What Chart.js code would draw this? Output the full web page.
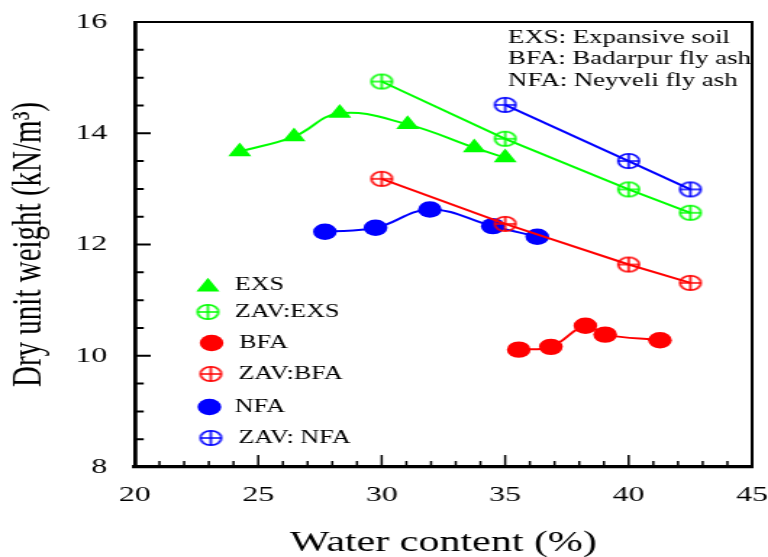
<!DOCTYPE html>
<html>
<head>
<meta charset="utf-8">
<script src="https://cdn.jsdelivr.net/npm/chart.js@4"></script>
<style>
  html, body { margin: 0; padding: 0; background: #fff; overflow: hidden; }
  /* the original figure is stretched sideways, so draw narrow and widen it */
  #wrap { width: 530px; height: 557px; transform: scaleX(1.4491); transform-origin: 0 0; }
</style>
</head>
<body>
<div id="wrap"><canvas id="chart" width="530" height="557"></canvas></div>
<script>
const serif = "'Liberation Serif', 'DejaVu Serif', 'Times New Roman', serif";

// water content (%) and dry unit weight (kN/m3)
const exsX = [24.25, 26.45, 28.3, 31.05, 33.75, 35.0];
const exsY = [13.67, 13.94, 14.36, 14.16, 13.74, 13.56];
const zavExsX = [30, 35, 40, 42.5];
const zavExsY = [14.93, 13.9, 12.99, 12.57];
const bfaX = [35.55, 36.85, 38.25, 39.05, 41.27];
const bfaY = [10.11, 10.16, 10.54, 10.38, 10.28];
const zavBfaX = [30, 35, 40, 42.5];
const zavBfaY = [13.18, 12.37, 11.64, 11.31];
const nfaX = [27.7, 29.75, 31.95, 34.5, 36.3];
const nfaY = [12.23, 12.30, 12.63, 12.33, 12.14];
const zavNfaX = [35, 40, 42.5];
const zavNfaY = [14.51, 13.5, 12.99];

const xTicks = [20, 25, 30, 35, 40, 45];
const yTicks = [8, 10, 12, 14, 16];
const notes = ["EXS: Expansive soil", "BFA: Badarpur fly ash", "NFA: Neyveli fly ash"];
const legendNames = ["EXS", "ZAV:EXS", "BFA", "ZAV:BFA", "NFA", "ZAV: NFA"];

const green = "#00ff00", red = "#ff0000", blue = "#0000ff";

function pts(xs, ys) {
  return xs.map((x, i) => ({ x: x, y: ys[i] }));
}

// circle with a plus inside
function crossCircle(color) {
  const c = document.createElement("canvas");
  c.width = 18; c.height = 18;
  const g = c.getContext("2d");
  g.strokeStyle = color;
  g.lineWidth = 1.6;
  g.beginPath();
  g.arc(9, 9, 7.2, 0, Math.PI * 2);
  g.moveTo(1.8, 9); g.lineTo(16.2, 9);
  g.moveTo(9, 1.8); g.lineTo(9, 16.2);
  g.stroke();
  return c;
}
const ccGreen = crossCircle(green), ccRed = crossCircle(red), ccBlue = crossCircle(blue);

function tri(ctx, x, y, r, color) {
  ctx.fillStyle = color;
  ctx.beginPath();
  ctx.moveTo(x, y - r);
  ctx.lineTo(x + r * Math.sin(Math.PI / 3), y + r / 2);
  ctx.lineTo(x - r * Math.sin(Math.PI / 3), y + r / 2);
  ctx.closePath();
  ctx.fill();
}
function dot(ctx, x, y, r, color) {
  ctx.fillStyle = color;
  ctx.beginPath();
  ctx.arc(x, y, r, 0, Math.PI * 2);
  ctx.fill();
}

// box, inward ticks, legend and note text
const extras = {
  id: "extras",
  afterDraw(chart) {
    const { ctx, chartArea: a, scales: { x, y } } = chart;
    ctx.save();
    ctx.strokeStyle = "#000";
    ctx.lineWidth = 2;
    ctx.beginPath();
    ctx.moveTo(a.left, a.top);
    ctx.lineTo(a.right, a.top);
    ctx.lineTo(a.right, a.bottom);
    ctx.stroke();

    ctx.lineWidth = 2;
    ctx.beginPath();
    for (let v = 8; v <= 16; v += 0.5) {
      const py = y.getPixelForValue(v);
      const len = v % 2 === 0 ? 11 : 6.2;
      ctx.moveTo(a.left, py);
      ctx.lineTo(a.left + len, py);
    }
    ctx.stroke();
    ctx.lineWidth = 1.5;
    ctx.beginPath();
    for (let v = 20; v <= 45; v += 1) {
      const px = x.getPixelForValue(v);
      const len = v % 5 === 0 ? 12 : 6;
      ctx.moveTo(px, a.bottom);
      ctx.lineTo(px, a.bottom - len);
    }
    ctx.stroke();

    // legend
    const rows = [285, 312, 343, 374, 407, 438];
    const mx = 143.5;
    tri(ctx, mx, rows[0] + 2, 9.2, green);
    ctx.drawImage(ccGreen, mx - 9, rows[1] - 9);
    dot(ctx, mx + 2.5, rows[2], 8.2, red);
    ctx.drawImage(ccRed, mx + 2 - 9, rows[3] - 9);
    dot(ctx, mx + 1, rows[4], 8.2, blue);
    ctx.drawImage(ccBlue, mx + 2 - 9, rows[5] - 9);
    const tx = [162, 162, 165, 164.5, 162, 164.5];
    ctx.fillStyle = "#000";
    ctx.font = "18px " + serif;
    ctx.textAlign = "left";
    ctx.textBaseline = "middle";
    legendNames.forEach((t, i) => ctx.fillText(t, tx[i], rows[i]));

    // notes at top right
    ctx.font = "18.5px " + serif;
    notes.forEach((t, i) => ctx.fillText(t, 350.6, 38 + i * 21.5));
    ctx.restore();
  }
};

new Chart(document.getElementById("chart"), {
  type: "scatter",
  data: {
    datasets: [
      { label: "EXS", data: pts(exsX, exsY), showLine: true, tension: 0.4,
        borderColor: green, backgroundColor: green, borderWidth: 2,
        pointStyle: "triangle", pointRadius: 9.2, pointBorderWidth: 0, order: 3 },
      { label: "ZAV:EXS", data: pts(zavExsX, zavExsY), showLine: true, tension: 0,
        borderColor: green, borderWidth: 2, pointStyle: ccGreen, order: 4 },
      { label: "BFA", data: pts(bfaX, bfaY), showLine: true, tension: 0.4,
        borderColor: red, backgroundColor: red, borderWidth: 2,
        pointStyle: "circle", pointRadius: 8.2, pointBorderWidth: 0, order: 5 },
      { label: "ZAV:BFA", data: pts(zavBfaX, zavBfaY), showLine: true, tension: 0,
        borderColor: red, borderWidth: 2, pointStyle: ccRed, order: 1 },
      { label: "NFA", data: pts(nfaX, nfaY), showLine: true, tension: 0.4,
        borderColor: blue, backgroundColor: blue, borderWidth: 2,
        pointStyle: "circle", pointRadius: 8.2, pointBorderWidth: 0, order: 2 },
      { label: "ZAV: NFA", data: pts(zavNfaX, zavNfaY), showLine: true, tension: 0,
        borderColor: blue, borderWidth: 2, pointStyle: ccBlue, order: 6 }
    ]
  },
  options: {
    responsive: false,
    animation: false,
    layout: { padding: { top: 22, right: 11, left: 0, bottom: 0 } },
    plugins: { legend: { display: false }, tooltip: { enabled: false } },
    scales: {
      x: {
        type: "linear", min: 20, max: 45,
        afterBuildTicks: s => { s.ticks = xTicks.map(v => ({ value: v })); },
        ticks: { color: "#000", font: { family: serif, size: 22 }, padding: 7, maxRotation: 0 },
        grid: { display: false },
        border: { color: "#000", width: 3.2 },
        title: { display: true, text: "Water content (%)", color: "#000",
                 font: { family: serif, size: 29 }, padding: { top: 0, bottom: -4 } },
        afterFit: s => { s.height = 90; s.paddingLeft = 0; s.paddingRight = 0; }
      },
      y: {
        type: "linear", min: 8, max: 16,
        afterBuildTicks: s => { s.ticks = yTicks.map(v => ({ value: v })); },
        ticks: { color: "#000", font: { family: serif, size: 22 }, padding: 11 },
        grid: { display: false },
        border: { color: "#000", width: 2.8 },
        title: { display: true, text: "Dry unit weight (kN/m³)", color: "#000",
                 font: { family: serif, size: 29 }, padding: { top: 3, bottom: 0 } },
        afterFit: s => { s.width = 93; s.paddingTop = 0; s.paddingBottom = 0; }
      }
    }
  },
  plugins: [extras]
});
</script>
</body>
</html>
